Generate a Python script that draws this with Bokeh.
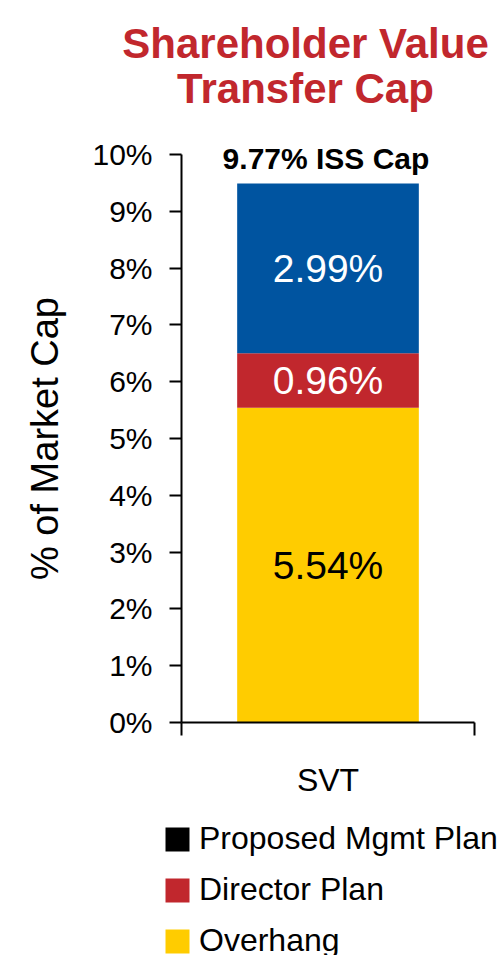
from bokeh.plotting import figure
from bokeh.models import (Range1d, FixedTicker, Label, Legend, LegendItem,
                          ColumnDataSource)
from bokeh.embed import file_html
from bokeh.resources import INLINE

# ---- data ----
categories = ["SVT"]
series_names = ["Overhang", "Director Plan", "Proposed Mgmt Plan"]
overhang = [5.54]
director_plan = [0.96]
proposed_mgmt_plan = [2.99]
iss_cap = 9.77
bar_colors = ["#FFCC00", "#C1272D", "#0054A0"]
legend_names = ["Proposed Mgmt Plan", "Director Plan", "Overhang"]
legend_swatch_mgmt = "#000000"
label_colors = ["#000000", "#FFFFFF", "#FFFFFF"]
y_ticks = list(range(0, 11))
y_tick_labels = {t: f"{t}%" for t in y_ticks}
title_lines = ["Shareholder Value", "Transfer Cap"]

FONT = "Liberation Sans"

# frame covers the whole canvas; axes are pinned at 0 with bounds
p = figure(width=504, height=955, output_backend="svg", toolbar_location=None,
           title=None,
           x_range=Range1d(-181 / 293, 1 + 30 / 293),
           y_range=Range1d(-233 / 56.8, 10 + 154 / 56.8),
           min_border_left=0, min_border_right=0, min_border_top=0,
           min_border_bottom=0)
p.outline_line_color = None
p.grid.visible = False
p.background_fill_color = "white"
p.border_fill_color = "white"

xs = [i + 0.5 for i in range(len(categories))]
bottoms_mgmt = [o + d for o, d in zip(overhang, director_plan)]
tops_mgmt = [b + m for b, m in zip(bottoms_mgmt, proposed_mgmt_plan)]

# black swatch renderer for the legend (hidden under the blue segment)
mgmt_swatch = p.vbar(x=xs, bottom=[b + 0.05 for b in bottoms_mgmt],
                     top=[t - 0.05 for t in tops_mgmt], width=0.56,
                     fill_color=legend_swatch_mgmt, line_color=None)

src = ColumnDataSource(dict(x=xs, Overhang=overhang,
                            **{"Director Plan": director_plan,
                               "Proposed Mgmt Plan": proposed_mgmt_plan}))
stack = p.vbar_stack(series_names, x="x", width=0.62, color=bar_colors,
                     line_color=None, source=src)

# segment labels + ISS cap label
for i, c in enumerate(categories):
    vals = [overhang[i], director_plan[i], proposed_mgmt_plan[i]]
    base = 0.0
    for v, col in zip(vals, label_colors):
        p.add_layout(Label(x=xs[i], y=base + v / 2, text=f"{v:.2f}%",
                           text_align="center", text_baseline="middle",
                           text_font=FONT, text_font_size="39px",
                           text_color=col))
        base += v
    p.add_layout(Label(x=xs[i], y=9.93, x_offset=-2,
                       text=f"{iss_cap:.2f}% ISS Cap",
                       text_align="center", text_baseline="alphabetic",
                       text_font=FONT, text_font_style="bold",
                       text_font_size="30px", text_color="black"))

# title (two lines)
for txt, yy in zip(title_lines, [11.954, 11.162]):
    p.add_layout(Label(x=0.4232, y=yy, text=txt, text_align="center",
                       text_baseline="alphabetic", text_font=FONT,
                       text_font_style="bold", text_font_size="42px",
                       text_color="#C1272D"))

# y axis
ya = p.yaxis[0]
ya.fixed_location = 0
ya.bounds = (0, 10)
ya.ticker = FixedTicker(ticks=y_ticks)
ya.major_label_overrides = y_tick_labels
ya.major_label_text_font = FONT
ya.major_label_text_font_size = "30px"
ya.major_label_text_color = "black"
ya.major_tick_out = 12
ya.major_tick_in = 0
ya.minor_tick_out = 0
ya.minor_tick_in = 0
ya.major_label_standoff = 17
ya.axis_line_width = 2
ya.major_tick_line_width = 2
ya.axis_label = "% of Market Cap"
ya.axis_label_text_font = FONT
ya.axis_label_text_font_style = "normal"
ya.axis_label_text_font_size = "38px"
ya.axis_label_text_color = "black"
ya.axis_label_standoff = 23

# x axis: ticks at category boundaries
xa = p.xaxis[0]
xa.fixed_location = 0
xa.bounds = (0, len(categories))
xa.ticker = FixedTicker(ticks=list(range(len(categories) + 1)))
xa.major_label_overrides = {t: "" for t in range(len(categories) + 1)}
xa.major_tick_out = 13
xa.major_tick_in = 0
xa.minor_tick_out = 0
xa.minor_tick_in = 0
xa.axis_line_width = 2
xa.major_tick_line_width = 2
xa.axis_label = categories[0]
xa.axis_label_text_font = FONT
xa.axis_label_text_font_style = "normal"
xa.axis_label_text_font_size = "32px"
xa.axis_label_text_color = "black"
xa.axis_label_standoff = 26

# legend with square swatches
items = [LegendItem(label=legend_names[0], renderers=[mgmt_swatch]),
         LegendItem(label=legend_names[1], renderers=[stack[1]]),
         LegendItem(label=legend_names[2], renderers=[stack[0]])]
legend = Legend(items=items, location=(162, -4), orientation="vertical",
                glyph_width=30, glyph_height=30, label_standoff=7,
                label_text_font=FONT, label_text_font_size="32px",
                label_text_color="black", spacing=14, padding=0, margin=0,
                border_line_color=None, background_fill_alpha=0)
p.add_layout(legend, "center")

open("out.html", "w").write(file_html(p, INLINE))
